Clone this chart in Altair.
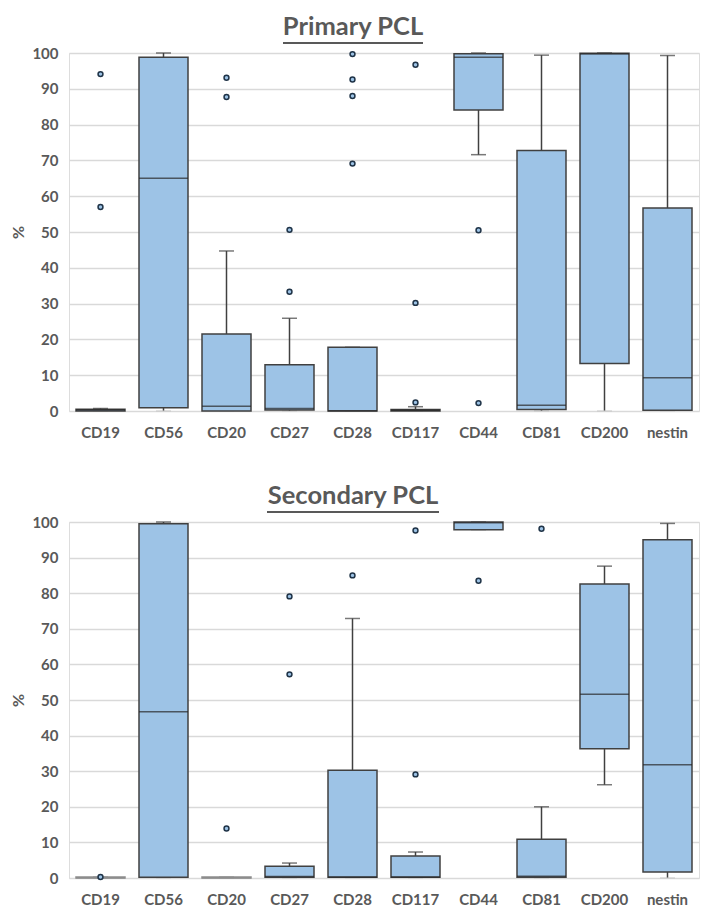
import altair as alt
import pandas as pd

markers = ["CD19", "CD56", "CD20", "CD27", "CD28", "CD117", "CD44", "CD81", "CD200", "nestin"]

# Primary PCL five-number summaries (%)
p_min = [0, 0, 0, 0, 0, 0, 71.6, 0, 0, 0]
p_q1 = [0, 0.9, 0, 0.3, 0, 0, 84.1, 0.4, 13.3, 0.2]
p_med = [0.3, 65.0, 1.3, 0.7, 0.1, 0.2, 98.8, 1.6, 99.7, 9.3]
p_q3 = [0.5, 98.8, 21.5, 12.9, 17.8, 0.4, 99.8, 72.8, 99.9, 56.7]
p_max = [0.7, 100, 44.7, 25.9, 17.8, 1.2, 100, 99.4, 100, 99.3]
p_out_marker = ["CD19", "CD19", "CD20", "CD20", "CD27", "CD27", "CD28", "CD28", "CD28", "CD28",
                "CD117", "CD117", "CD117", "CD44", "CD44"]
p_out_value = [94.1, 57.0, 93.1, 87.7, 50.6, 33.3, 99.7, 92.6, 88.0, 69.1,
               96.7, 30.2, 2.4, 50.5, 2.2]

# Secondary PCL five-number summaries (%)
s_min = [0, 0, 0, 0, 0, 0, 97.9, 0, 26.2, 0]
s_q1 = [0, 0.2, 0, 0.2, 0.2, 0.2, 97.8, 0.2, 36.3, 1.7]
s_med = [0.1, 46.7, 0.1, 0.4, 0.3, 0.3, 99.8, 0.5, 51.6, 31.8]
s_q3 = [0.3, 99.5, 0.3, 3.3, 30.3, 6.2, 100, 10.9, 82.6, 95.0]
s_max = [0.3, 100, 0.3, 4.2, 72.9, 7.3, 100, 20.0, 87.6, 99.6]
s_out_marker = ["CD19", "CD20", "CD27", "CD27", "CD28", "CD117", "CD117", "CD44", "CD81"]
s_out_value = [0.3, 13.9, 79.1, 57.2, 85.0, 97.6, 29.1, 83.5, 98.1]

titles = ["Primary PCL", "Secondary PCL"]
y_ticks = [0, 10, 20, 30, 40, 50, 60, 70, 80, 90, 100]

BOX_FILL = "#9DC3E6"
EDGE = "#404040"
TXT = "#595959"
FONT = "Lato"
PW = 630


def panel(title, mn, q1, md, q3, mx, om, ov, height, ul_half):
    stats = pd.DataFrame({"marker": markers, "lo": mn, "q1": q1, "med": md, "q3": q3, "hi": mx})
    outs = pd.DataFrame({"marker": om, "value": ov})
    x = alt.X("marker:N", sort=markers,
              scale=alt.Scale(domain=markers, paddingInner=0, paddingOuter=0),
              axis=alt.Axis(title=None, labelAngle=0, domain=False, ticks=False,
                            labelPadding=14, labelFontSize=15, labelFontWeight="bold",
                            labelColor=TXT, labelFont=FONT, grid=False))
    yscale = alt.Scale(domain=[0, 100], nice=False)
    yaxis = alt.Axis(title="%", values=y_ticks, domain=False, ticks=False,
                     labelOverlap=False, labelPadding=11, labelFontSize=15,
                     labelFontWeight="bold", labelColor=TXT, labelFont=FONT,
                     titleFont=FONT, titleFontSize=16, titleFontWeight="bold",
                     titleColor=TXT, titlePadding=5,
                     gridColor="#D9D9D9", gridWidth=1.5)

    def Y(field):
        return alt.Y(field, scale=yscale, axis=yaxis, title="%")

    base = alt.Chart(stats)
    lower = base.mark_rule(color=EDGE, strokeWidth=1.5).encode(x=x, y=Y("lo:Q"), y2="q1:Q")
    upper = base.mark_rule(color=EDGE, strokeWidth=1.5).encode(x=x, y=Y("q3:Q"), y2="hi:Q")
    cap_lo = base.mark_tick(size=15, thickness=1.5).encode(
        x=x, y=Y("lo:Q"),
        color=alt.condition("datum.lo == 0", alt.value("#C8C8C8"), alt.value(EDGE)))
    cap_hi = base.mark_tick(size=15, thickness=1.5).encode(
        x=x, y=Y("hi:Q"),
        color=alt.condition("datum.hi < 0.5", alt.value("#9A9A9A"), alt.value(EDGE)))
    box = base.mark_bar(size=49, fill=BOX_FILL, strokeWidth=1.5).encode(
        x=x, y=Y("q1:Q"), y2="q3:Q",
        stroke=alt.condition("datum.hi < 0.5", alt.value("#8C8C8C"), alt.value(EDGE)))
    med = base.mark_tick(size=49, thickness=1.5).encode(
        x=x, y=Y("med:Q"),
        color=alt.condition("datum.hi < 0.5", alt.value("#8C8C8C"), alt.value("#262626")))
    pts = alt.Chart(outs).mark_point(shape="circle", filled=True, fill=BOX_FILL, stroke="#1F3347",
                                     strokeWidth=1.5, size=24, opacity=1).encode(
        x=x, y=Y("value:Q"))
    cx = 284
    ttl = alt.Chart(pd.DataFrame({"t": [title]})).mark_text(
        font=FONT, fontSize=25.5, fontWeight="bold", color=TXT, align="center",
        baseline="top").encode(text="t:N", x=alt.value(cx), y=alt.value(-38))
    ul = alt.Chart(pd.DataFrame({"t": [0]})).mark_rule(color=TXT, strokeWidth=2).encode(
        x=alt.value(cx - ul_half), x2=alt.value(cx + ul_half), y=alt.value(-10))
    return alt.layer(lower, upper, cap_lo, cap_hi, box, med, pts, ttl, ul).properties(
        width=PW, height=height)


top = panel(titles[0], p_min, p_q1, p_med, p_q3, p_max, p_out_marker, p_out_value, 358, 70)
bottom = panel(titles[1], s_min, s_q1, s_med, s_q3, s_max, s_out_marker, s_out_value, 356, 86)

chart = alt.vconcat(top, bottom, spacing=42).properties(
    padding={"left": 2, "top": 6, "right": 0, "bottom": 0}).configure_view(
    strokeWidth=0).configure(background="white")

chart.save("out.html", embed_options={"renderer": "svg", "actions": False})
